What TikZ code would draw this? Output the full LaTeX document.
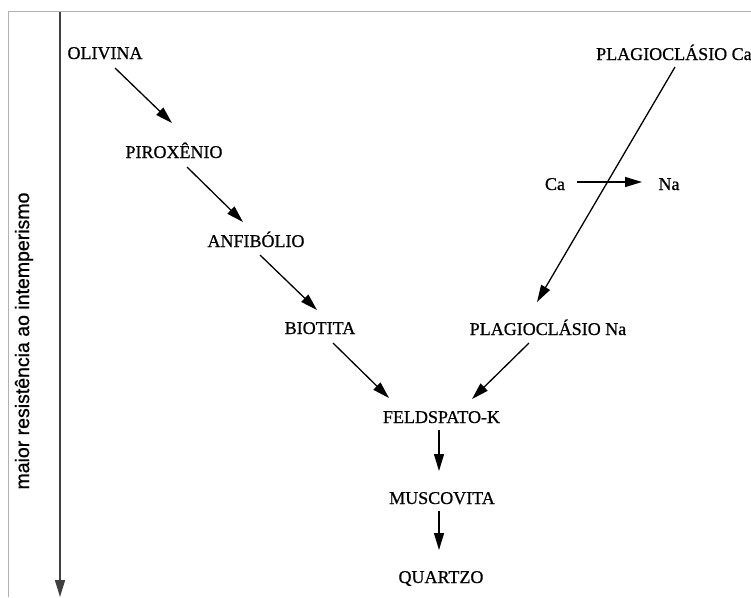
\documentclass[tikz,border=0pt]{standalone}
\usepackage{fontspec}
\setmainfont{Liberation Serif}
\newfontfamily\lblfont[FakeBold=0.7]{Liberation Serif}
\newfontfamily\axisfont[FakeBold=0.8]{Liberation Sans}
\usetikzlibrary{arrows.meta}
\begin{document}
\begin{tikzpicture}[
        x = 1pt, y = -1pt,
        lbl/.style = {inner sep = 0mm, anchor = base, font = \lblfont\fontsize{18}{18}\selectfont},
        arr/.style = {draw, line width = 1.3pt, -{Triangle[length = 17pt, width = 10pt]}},
        frame/.style = {draw, black!30, line width = 1pt},
    ]
    \clip (0,0) rectangle (751,597);

    % frame of the scan
    \path[frame] (8,597) -- (8,11) -- (751,11);

    % axis
    \coordinate (TOP) at (60,12);
    \coordinate (BOT) at (60,597);
    \path[arr, black!75, line width = 1.5pt] (TOP) -- (BOT);
    \node (AX) [rotate = 90, inner sep = 0mm, font = \axisfont\fontsize{19.5}{20}\selectfont] at (24,341) {maior resistência ao intemperismo};

    \node (OLI) [lbl] at (105,59) {OLIVINA};
    \node (PIR) [lbl] at (174,158) {PIROXÊNIO};
    \node (ANF) [lbl] at (256,247) {ANFIBÓLIO};
    \node (BIO) [lbl] at (320,334) {BIOTITA};
    \node (PNA) [lbl] at (548,335) {PLAGIOCLÁSIO Na};
    \node (PCA) [lbl, anchor = base west] at (596,60) {PLAGIOCLÁSIO Ca};
    \node (CA) [lbl] at (555,190) {Ca};
    \node (NA) [lbl] at (669,190) {Na};
    \node (FEL) [lbl] at (441.5,423) {FELDSPATO-K};
    \node (MUS) [lbl] at (442,504) {MUSCOVITA};
    \node (QUA) [lbl] at (441,583) {QUARTZO};

    \path[arr] ([shift = {(10,9)}]OLI.base) -- ([shift = {(-2,-35)}]PIR.base);
    \path[arr] ([shift = {(13,9)}]PIR.base) -- ([shift = {(-13,-25)}]ANF.base);
    \path[arr] ([shift = {(4,8)}]ANF.base) -- ([shift = {(-3,-24)}]BIO.base);
    \path[arr] ([shift = {(13,9)}]BIO.base) -- ([shift = {(-52.5,-25)}]FEL.base);

    \path[arr] ([shift = {(79,7)}]PCA.base west) -- ([shift = {(-11,-33)}]PNA.base);
    \path[arr] ([shift = {(22,-8)}]CA.base) -- ([shift = {(-27,-8)}]NA.base);
    \path[arr] ([shift = {(-19,8)}]PNA.base) -- ([shift = {(30.5,-24)}]FEL.base);

    \path[arr] ([shift = {(-2.5,7)}]FEL.base) -- ([shift = {(-3,-33)}]MUS.base);
    \path[arr] ([shift = {(-3,7)}]MUS.base) -- ([shift = {(-2,-33)}]QUA.base);
\end{tikzpicture}
\end{document}
